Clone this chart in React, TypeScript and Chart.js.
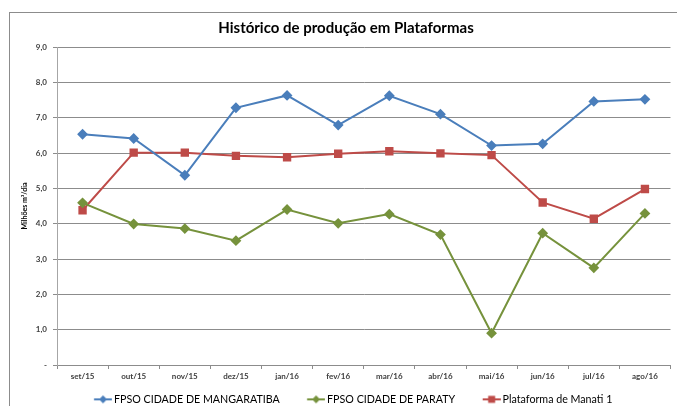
import React, { useEffect, useRef } from "react";
import { Chart, registerables } from "chart.js";

Chart.register(...registerables);

const categories = ["set/15", "out/15", "nov/15", "dez/15", "jan/16", "fev/16", "mar/16", "abr/16", "mai/16", "jun/16", "jul/16", "ago/16"];
const mangaratiba = [6.53, 6.41, 5.37, 7.28, 7.63, 6.79, 7.62, 7.10, 6.21, 6.26, 7.46, 7.52];
const paraty = [4.59, 3.99, 3.86, 3.52, 4.40, 4.01, 4.27, 3.69, 0.90, 3.73, 2.75, 4.29];
const manati = [4.38, 6.01, 6.01, 5.92, 5.88, 5.98, 6.05, 5.99, 5.94, 4.60, 4.14, 4.98];
const seriesNames = ["FPSO CIDADE DE MANGARATIBA", "FPSO CIDADE DE PARATY", "Plataforma de Manati 1"];
const titleText = "Histórico de produção em Plataformas";
const yTitle = "Milhões m³/dia";

const BLUE = "#4A7EBB";
const GREEN = "#76923C";
const RED = "#BE4B48";
const FONT = "Lato, 'Open Sans', sans-serif";

function legendIcon(color: string, shape: "diamond" | "square"): HTMLCanvasElement {
  const c = document.createElement("canvas");
  c.width = 36;
  c.height = 10;
  const ctx = c.getContext("2d")!;
  const x0 = 17.85;
  ctx.strokeStyle = color;
  ctx.lineWidth = 2;
  ctx.beginPath();
  ctx.moveTo(x0, 5);
  ctx.lineTo(x0 + 18, 5);
  ctx.stroke();
  ctx.fillStyle = color;
  const cx = x0 + 9;
  if (shape === "diamond") {
    ctx.beginPath();
    ctx.moveTo(cx, 1);
    ctx.lineTo(cx + 4, 5);
    ctx.lineTo(cx, 9);
    ctx.lineTo(cx - 4, 5);
    ctx.closePath();
    ctx.fill();
  } else {
    ctx.fillRect(cx - 3.5, 1.5, 7, 7);
  }
  return c;
}

const framePlugin = {
  id: "frame",
  beforeDraw(chart: any) {
    const ctx = chart.ctx;
    ctx.save();
    ctx.fillStyle = "#ffffff";
    ctx.fillRect(0, 0, chart.width, chart.height);
    ctx.strokeStyle = "#8c8c8c";
    ctx.lineWidth = 1;
    ctx.strokeRect(9.5, 12.5, 700, 420);
    ctx.restore();
  },
};

export default function App() {
  const ref = useRef<HTMLCanvasElement>(null);
  useEffect(() => {
    if (!ref.current) return;
    const icons = [legendIcon(BLUE, "diamond"), legendIcon(GREEN, "diamond"), legendIcon(RED, "square")];
    const chart = new Chart(ref.current, {
      type: "line",
      data: {
        labels: categories,
        datasets: [
          { label: seriesNames[0], data: mangaratiba, borderColor: BLUE, backgroundColor: BLUE, borderWidth: 2, pointStyle: "rectRot", pointRadius: 4, pointHoverRadius: 4, tension: 0 },
          { label: seriesNames[1], data: paraty, borderColor: GREEN, backgroundColor: GREEN, borderWidth: 2, pointStyle: "rectRot", pointRadius: 4, pointHoverRadius: 4, tension: 0 },
          { label: seriesNames[2], data: manati, borderColor: RED, backgroundColor: RED, borderWidth: 2, pointStyle: "rect", pointRadius: 4.5, pointHoverRadius: 4.5, tension: 0 },
        ],
      },
      options: {
        responsive: false,
        animation: false,
        layout: { padding: { left: 18, right: 3, top: 0, bottom: -8.7 } },
        plugins: {
          title: {
            display: true,
            text: titleText,
            color: "#000000",
            font: { family: FONT, size: 15, weight: "bold" },
            padding: { top: 19, bottom: 10 },
          },
          legend: {
            position: "bottom",
            labels: {
              usePointStyle: true,
              pointStyleWidth: 29,
              padding: 13,
              color: "#000000",
              font: { family: FONT, size: 10.7 },
              generateLabels: (ch: any) =>
                ch.data.datasets.map((ds: any, i: number) => ({
                  text: ds.label,
                  pointStyle: icons[i],
                  fillStyle: ds.borderColor,
                  strokeStyle: ds.borderColor,
                  lineWidth: 0,
                  hidden: false,
                  datasetIndex: i,
                  fontColor: "#000000",
                })),
            },
          },
          tooltip: { enabled: false },
        },
        scales: {
          x: {
            type: "category",
            offset: true,
            grid: { display: true, drawOnChartArea: false, drawTicks: true, tickLength: 4, color: "#8c8c8c", offset: true },
            border: { display: true, color: "#8c8c8c" },
            ticks: { color: "#404040", font: { family: FONT, size: 8, weight: "bold" }, padding: 3, maxRotation: 0, autoSkip: false },
            afterFit: (s: any) => { s.height = 16; },
          },
          y: {
            min: 0,
            max: 9,
            ticks: {
              stepSize: 1,
              color: "#404040",
              padding: 6,
              font: { family: FONT, size: 8, weight: "bold" },
              callback: (v: any) => (Number(v) === 0 ? "-" : Number(v).toFixed(1).replace(".", ",")),
            },
            grid: { color: "#8c8c8c", tickLength: 4, lineWidth: 1 },
            border: { display: true, color: "#a6a6a6" },
            title: {
              display: true,
              text: yTitle,
              color: "#000000",
              font: { family: FONT, size: 7, weight: "bold" },
              padding: { top: 3, bottom: 0 },
            },
            afterFit: (s: any) => { s.width = 39; },
          },
        },
      },
      plugins: [framePlugin],
    } as any);
    return () => chart.destroy();
  }, []);
  return (
    <div style={{ position: "absolute", left: 0, top: 0, width: 677, height: 406, overflow: "hidden" }}>
      <canvas ref={ref} width={677} height={406} style={{ display: "block" }} />
    </div>
  );
}
